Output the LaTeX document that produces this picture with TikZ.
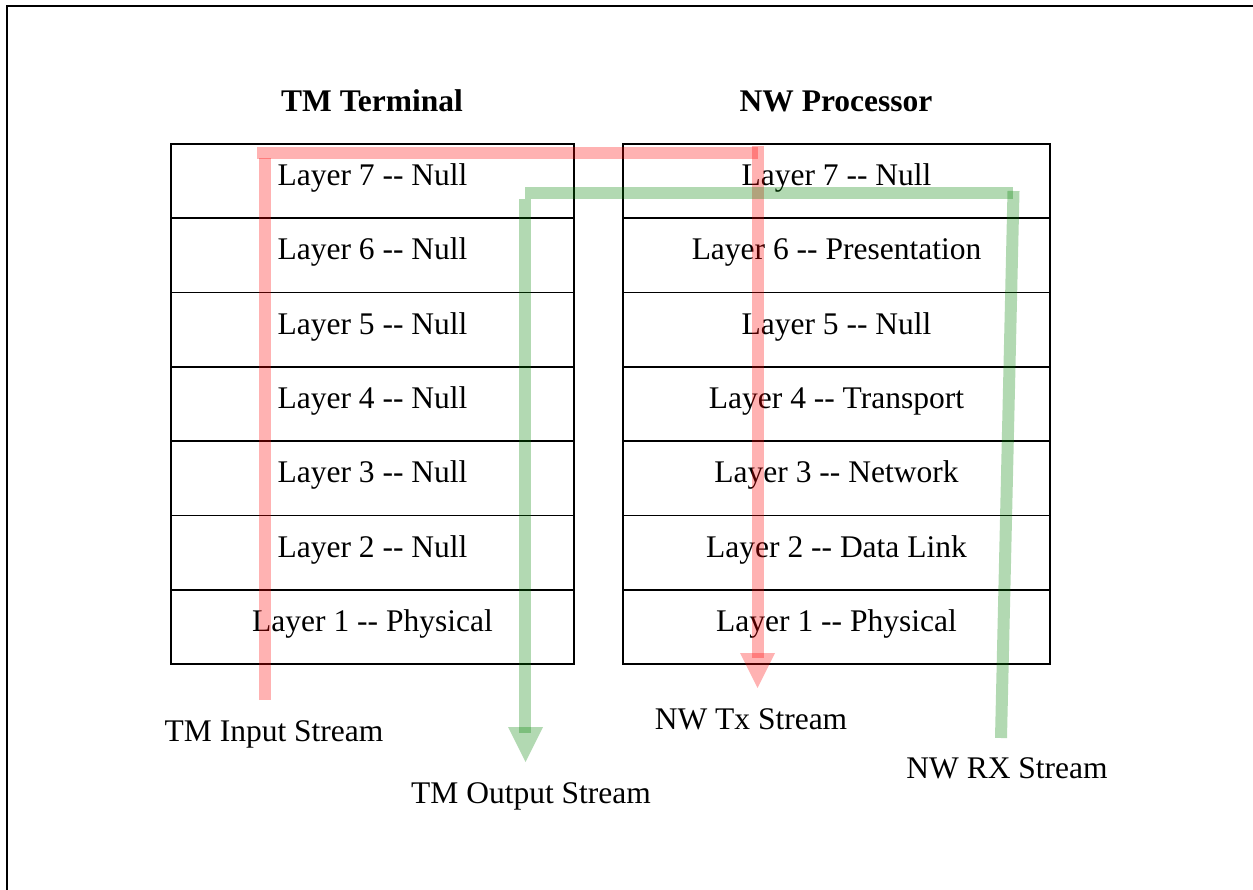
\documentclass[tikz,border=0pt]{standalone}
\usepackage{fontspec}
\setmainfont{Liberation Serif}
\begin{document}
\begin{tikzpicture}[x=1pt,y=-1pt,
  txt/.style={font=\fontsize{31.5}{36}\selectfont, inner sep=0pt},
  ttl/.style={txt, font=\fontsize{31.5}{36}\selectfont\bfseries},
  lrow/.style={draw, line width=1.5pt, minimum width=403pt, minimum height=74.3pt, inner sep=0pt, text height=21pt, text depth=12pt, font=\fontsize{31.5}{36}\selectfont},
  rrow/.style={lrow, minimum width=427pt},
  redflow/.style={draw=red, draw opacity=0.3, line width=12pt},
  greenflow/.style={draw={rgb,255:red,0;green,128;blue,0}, draw opacity=0.3, line width=12pt},
  redhead/.style={fill=red, fill opacity=0.3, draw=none},
  greenhead/.style={fill={rgb,255:red,0;green,128;blue,0}, fill opacity=0.3, draw=none},
  frame/.style={line width=2.5pt}]
\useasboundingbox (0,0) rectangle (1253,890);
% frame (only top and left edges visible)
\coordinate (fa) at (7,890);
\coordinate (fb) at (7,6);
\coordinate (fc) at (1253,6);
\draw[frame] (fa) -- (fb) -- (fc);
% titles
\node[ttl] (tmt) at (372,101) {TM Terminal};
\node[ttl] (nwp) at (836,101) {NW Processor};
% left stack
\node[lrow] (l7) at (372.5,181.1) {Layer 7 -{}- Null};
\node[lrow] (l6) at (372.5,255.4) {Layer 6 -{}- Null};
\node[lrow] (l5) at (372.5,329.7) {Layer 5 -{}- Null};
\node[lrow] (l4) at (372.5,404.0) {Layer 4 -{}- Null};
\node[lrow] (l3) at (372.5,478.3) {Layer 3 -{}- Null};
\node[lrow] (l2) at (372.5,552.6) {Layer 2 -{}- Null};
\node[lrow] (l1) at (372.5,626.9) {Layer 1 -{}- Physical};
% right stack
\node[rrow] (r7) at (836.5,181.1) {Layer 7 -{}- Null};
\node[rrow] (r6) at (836.5,255.4) {Layer 6 -{}- Presentation};
\node[rrow] (r5) at (836.5,329.7) {Layer 5 -{}- Null};
\node[rrow] (r4) at (836.5,404.0) {Layer 4 -{}- Transport};
\node[rrow] (r3) at (836.5,478.3) {Layer 3 -{}- Network};
\node[rrow] (r2) at (836.5,552.6) {Layer 2 -{}- Data Link};
\node[rrow] (r1) at (836.5,626.9) {Layer 1 -{}- Physical};
% labels
\node[txt] (tin) at (274,734) {TM Input Stream};
\node[txt] (tout) at (531,796) {TM Output Stream};
\node[txt] (ntx) at (751,719) {NW Tx Stream};
\node[txt] (nrx) at (1007,768) {NW RX Stream};
% red stream coordinates
\coordinate (ra) at (265,700);
\coordinate (rb) at (265,158);
\coordinate (rc) at (257,153);
\coordinate (rd) at (758,153);
\coordinate (re) at (757.5,146);
\coordinate (rf) at (757.5,658);
\coordinate (rh1) at (740,653);
\coordinate (rh2) at (775,653);
\coordinate (rh3) at (757.5,688);
\draw[redflow] (ra) -- (rb);
\draw[redflow] (rc) -- (rd);
\draw[redflow] (re) -- (rf);
\fill[redhead] (rh1) -- (rh2) -- (rh3) -- cycle;
% green stream coordinates
\coordinate (ga) at (1001,738);
\coordinate (gb) at (1013.5,191);
\coordinate (gc) at (1013,193);
\coordinate (gd) at (525,193);
\coordinate (ge) at (525,199);
\coordinate (gf) at (525,733);
\coordinate (gh1) at (508,727);
\coordinate (gh2) at (543,727);
\coordinate (gh3) at (525.5,762);
\draw[greenflow] (ga) -- (gb);
\draw[greenflow] (gc) -- (gd);
\draw[greenflow] (ge) -- (gf);
\fill[greenhead] (gh1) -- (gh2) -- (gh3) -- cycle;
\end{tikzpicture}
\end{document}
